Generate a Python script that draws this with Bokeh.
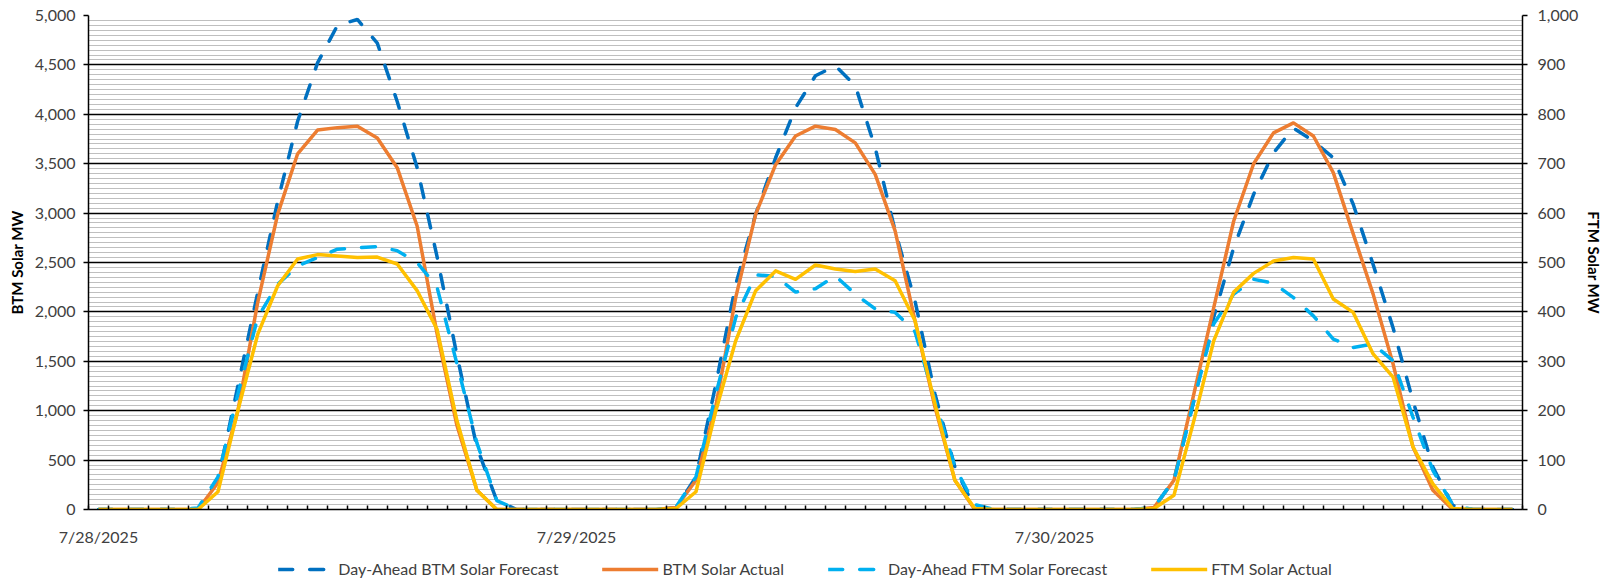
from bokeh.plotting import figure
from bokeh.layouts import column
from bokeh.models import (Range1d, LinearAxis, FixedTicker, SingleIntervalTicker,
                          NumeralTickFormatter, Legend, LegendItem)
from bokeh.embed import file_html
from bokeh.resources import INLINE

# hourly values, 7/28/2025 00:00 .. 7/30/2025 23:00
hours = list(range(72))
date_ticks = [0, 24, 48]
date_labels = ["7/28/2025", "7/29/2025", "7/30/2025"]

btm_forecast = [
    0, 0, 0, 0, 0, 0, 300, 1250, 2200, 3120, 3930, 4520, 4900, 4960, 4720, 4130, 3460, 2560, 1560, 630, 90, 0, 0, 0,
    0, 0, 0, 0, 0, 20, 330, 1270, 2280, 2990, 3560, 4065, 4390, 4490, 4290, 3660, 2820, 2110, 1170, 430, 10, 0, 0, 0,
    0, 0, 0, 0, 0, 20, 300, 1100, 1950, 2650, 3190, 3610, 3860, 3730, 3560, 3090, 2480, 1840, 1100, 430, 40, 0, 0, 0,
]
btm_actual = [
    0, 0, 0, 0, 0, 0, 270, 1000, 2100, 2990, 3600, 3840, 3865, 3880, 3760, 3460, 2870, 1780, 850, 195, 0, 0, 0, 0,
    0, 0, 0, 0, 0, 20, 296, 1050, 2150, 2990, 3490, 3780, 3880, 3846, 3711, 3392, 2820, 1910, 1036, 296, 0, 0, 0, 0,
    0, 0, 0, 0, 0, 20, 296, 1170, 2046, 2920, 3500, 3812, 3913, 3780, 3410, 2790, 2180, 1475, 633, 195, 0, 0, 0, 0,
]
ftm_forecast = [
    0, 0, 0, 0, 0, 3, 66, 234, 389, 456, 493, 510, 527, 530, 532, 524, 500, 450, 295, 135, 18, 0, 0, 0,
    0, 0, 0, 0, 0, 5, 66, 234, 389, 475, 472, 440, 447, 473, 436, 406, 399, 360, 221, 86, 10, 0, 0, 0,
    0, 0, 0, 0, 0, 5, 59, 221, 376, 436, 466, 458, 429, 392, 345, 328, 335, 301, 187, 79, 9, 0, 0, 0,
]
ftm_actual = [
    0, 0, 0, 0, 0, 0, 36, 200, 355, 453, 507, 516, 513, 510, 511, 497, 443, 365, 180, 39, 0, 0, 0, 0,
    0, 0, 0, 0, 0, 2, 36, 200, 342, 443, 483, 466, 495, 487, 482, 487, 463, 382, 214, 59, 2, 0, 0, 0,
    0, 0, 0, 0, 0, 2, 29, 180, 342, 440, 478, 503, 510, 507, 426, 399, 315, 268, 127, 52, 2, 0, 0, 0,
]
series_names = ["Day-Ahead BTM Solar Forecast", "BTM Solar Actual",
                "Day-Ahead FTM Solar Forecast", "FTM Solar Actual"]
series_colors = ["#0070C0", "#ED7D31", "#00B0F0", "#FFC000"]
series_dash = ["14 17", "solid", "14 17", "solid"]

FONT = "Lato"
TXT = "#404040"
W = 3.5

p = figure(width=1607, height=550,
           x_range=Range1d(-0.5, 71.5), y_range=Range1d(0, 5000),
           output_backend="svg", toolbar_location=None,
           min_border_left=88, min_border_right=85, min_border_top=15, min_border_bottom=41)
p.outline_line_color = None
p.extra_y_ranges = {"ftm": Range1d(0, 1000)}

# x axis: date labels at first hour of each day, inward ticks at hour boundaries
xax = p.xaxis[0]
xax.ticker = FixedTicker(ticks=date_ticks, minor_ticks=[k - 0.5 for k in range(73)])
xax.major_label_overrides = {t: l for t, l in zip(date_ticks, date_labels)}
xax.major_tick_in = 0
xax.major_tick_out = 0
xax.minor_tick_in = 4
xax.minor_tick_out = 0
xax.minor_tick_line_color = "black"
xax.minor_tick_line_width = 1.5
xax.axis_line_color = "black"
xax.axis_line_width = 1.5
xax.major_label_standoff = 17
xax.major_label_text_font = FONT
xax.major_label_text_font_size = "16px"
xax.major_label_text_color = TXT
p.xgrid.visible = False

# left axis
lt = SingleIntervalTicker(interval=500, num_minor_ticks=10)
yax = p.yaxis[0]
yax.ticker = lt
p.ygrid.ticker = lt
yax.formatter = NumeralTickFormatter(format="0,0")
yax.major_tick_out = 5
yax.major_tick_in = 0
yax.minor_tick_out = 0
yax.minor_tick_in = 0
yax.major_tick_line_color = "black"
yax.major_tick_line_width = 1.5
yax.axis_line_color = "black"
yax.axis_line_width = 1.5
yax.major_label_standoff = 8
yax.major_label_text_font = FONT
yax.major_label_text_font_size = "16px"
yax.major_label_text_color = TXT
yax.axis_label = "BTM Solar MW"
yax.axis_label_text_font = FONT
yax.axis_label_text_font_size = "15px"
yax.axis_label_text_font_style = "bold"
yax.axis_label_text_color = "black"
yax.axis_label_standoff = 6

p.ygrid.grid_line_color = "black"
p.ygrid.grid_line_width = 1.5
p.ygrid.minor_grid_line_color = "#BFBFBF"
p.ygrid.minor_grid_line_width = 1

# right axis
rax = LinearAxis(y_range_name="ftm", ticker=SingleIntervalTicker(interval=100),
                 formatter=NumeralTickFormatter(format="0,0"))
rax.major_tick_out = 5
rax.major_tick_in = 0
rax.minor_tick_out = 0
rax.minor_tick_in = 0
rax.major_tick_line_color = "black"
rax.major_tick_line_width = 1.5
rax.axis_line_color = "black"
rax.axis_line_width = 1.5
rax.major_label_standoff = 10
rax.major_label_text_font = FONT
rax.major_label_text_font_size = "16px"
rax.major_label_text_color = TXT
rax.axis_label = "FTM Solar MW"
rax.axis_label_text_font = FONT
rax.axis_label_text_font_size = "15px"
rax.axis_label_text_font_style = "bold"
rax.axis_label_text_color = "black"
rax.axis_label_standoff = 4
p.add_layout(rax, "right")

p.line(hours, btm_forecast, line_color=series_colors[0], line_width=W, line_dash=series_dash[0], line_cap="round")
p.line(hours, btm_actual, line_color=series_colors[1], line_width=W, line_join="round")
p.line(hours, ftm_forecast, y_range_name="ftm", line_color=series_colors[2], line_width=W,
       line_dash=series_dash[2], line_cap="round")
p.line(hours, ftm_actual, y_range_name="ftm", line_color=series_colors[3], line_width=W, line_join="round")

# legend strip below the chart
lg = figure(width=1607, height=28, x_range=Range1d(0, 1), y_range=Range1d(0, 1),
            output_backend="svg", toolbar_location=None,
            min_border_left=0, min_border_right=0, min_border_top=0, min_border_bottom=0)
lg.axis.visible = False
lg.grid.visible = False
lg.outline_line_color = None
items = []
for name, col, dash in zip(series_names, series_colors, series_dash):
    r = lg.line([-5, -4], [-5, -5], line_color=col, line_width=W, line_dash=dash, line_cap="round")
    items.append(LegendItem(label=name, renderers=[r]))
legend = Legend(items=items, orientation="horizontal", location="bottom")
legend.glyph_width = 56
legend.glyph_height = 18
legend.label_standoff = 4
legend.spacing = 44
legend.padding = 0
legend.margin = 0
legend.border_line_color = None
legend.background_fill_alpha = 0
legend.label_text_font = FONT
legend.label_text_font_size = "16px"
legend.label_text_color = TXT
lg.add_layout(legend, "center")

open("out.html", "w").write(file_html(column(p, lg, spacing=0), INLINE))
